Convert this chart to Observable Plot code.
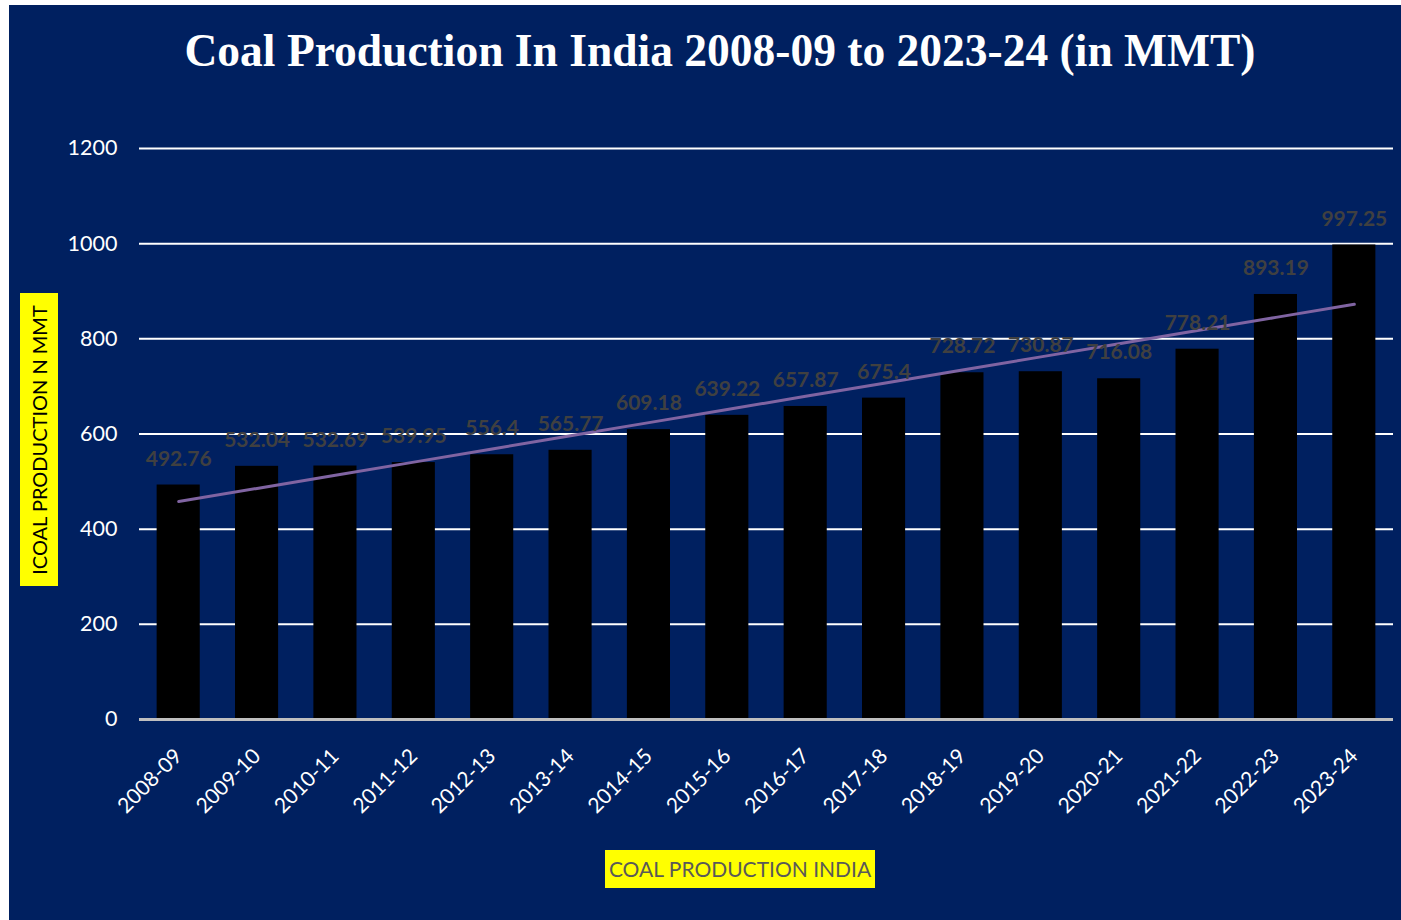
<!DOCTYPE html>
<html>
<head>
<meta charset="utf-8">
<script src="https://cdn.jsdelivr.net/npm/d3@7"></script>
<script src="https://cdn.jsdelivr.net/npm/@observablehq/plot@0.6"></script>
<style>
  html, body { margin: 0; padding: 0; background: #ffffff; }
  #frame {
    position: absolute; left: 9px; top: 5px; width: 1392px; height: 915px;
    background: #002060; overflow: hidden;
  }
  #title {
    position: absolute; left: 0; top: 0; width: 1422px; height: 95px;
    text-align: center; color: #ffffff;
    font-family: "Liberation Serif", "Times New Roman", serif; font-weight: bold;
    font-size: 45.5px; line-height: 92px; white-space: nowrap;
  }
  #chart { position: absolute; left: 0; top: 95px; }
  #ylab {
    position: absolute; left: 11px; top: 288px; width: 38px; height: 293px;
    background: #ffff00;
  }
  #ylab span {
    position: absolute; left: 50%; top: 50%;
    transform: translate(-50%, -50%) rotate(-90deg);
    white-space: nowrap; color: #000000;
    font-family: Lato, "Open Sans", sans-serif; font-size: 20px;
  }
  #xlab {
    position: absolute; left: 596px; top: 845px; width: 270px; height: 38px;
    background: #ffff00; color: #595959; text-align: center;
    font-family: Lato, "Open Sans", sans-serif; font-size: 21px; line-height: 38px;
    white-space: nowrap;
  }
</style>
</head>
<body>
<div id="frame">
  <div id="title">Coal Production In India 2008-09 to 2023-24 (in MMT)</div>
  <div id="chart"></div>
  <div id="ylab"><span>ICOAL PRODUCTION N MMT</span></div>
  <div id="xlab">COAL PRODUCTION INDIA</div>
</div>
<script>
const years = ["2008-09","2009-10","2010-11","2011-12","2012-13","2013-14","2014-15","2015-16",
               "2016-17","2017-18","2018-19","2019-20","2020-21","2021-22","2022-23","2023-24"];
const production = [492.76, 532.04, 532.69, 539.95, 556.4, 565.77, 609.18, 639.22,
                    657.87, 675.4, 728.72, 730.87, 716.08, 778.21, 893.19, 997.25];
const yTicks = [0, 200, 400, 600, 800, 1000, 1200];

const data = years.map((y, i) => ({year: y, value: production[i], idx: i}));

// linear trend line (least squares over index)
const mx = d3.mean(data, d => d.idx), my = d3.mean(data, d => d.value);
const slope = d3.sum(data, d => (d.idx - mx) * (d.value - my)) / d3.sum(data, d => (d.idx - mx) ** 2);
const intercept = my - slope * mx;
const trend = data.map(d => ({year: d.year, value: intercept + slope * d.idx}));

const chart = Plot.plot({
  width: 1392,
  height: 740,
  marginTop: 48,
  marginBottom: 121,
  marginLeft: 130,
  marginRight: 8,
  style: {background: "transparent", fontFamily: "Lato, 'Open Sans', sans-serif", color: "#ffffff"},
  x: {domain: years, paddingInner: 0.45, paddingOuter: 0.225, round: false, label: null},
  y: {domain: [0, 1200], label: null},
  marks: [
    Plot.gridY(yTicks.filter(t => t > 0), {stroke: "#ffffff", strokeOpacity: 1, strokeWidth: 2}),
    Plot.barY(data, {x: "year", y: "value", fill: "#000000"}),
    Plot.ruleY([0], {stroke: "#bfbfbf", strokeWidth: 3}),
    Plot.line(trend, {x: "year", y: "value", stroke: "#8064a2", strokeWidth: 3}),
    Plot.text(data, {x: "year", y: "value", text: d => String(d.value), dy: -26,
                     fill: "#404040", fontSize: 21, fontWeight: "bold"}),
    Plot.axisY(yTicks, {tickSize: 0, tickPadding: 22, fontSize: 21.5, fill: "#ffffff", tickFormat: d => String(d)}),
    Plot.axisX({tickSize: 0, tickPadding: 33, tickRotate: -45, fontSize: 21, fill: "#ffffff"})
  ]
});
document.getElementById("chart").appendChild(chart);
</script>
</body>
</html>
